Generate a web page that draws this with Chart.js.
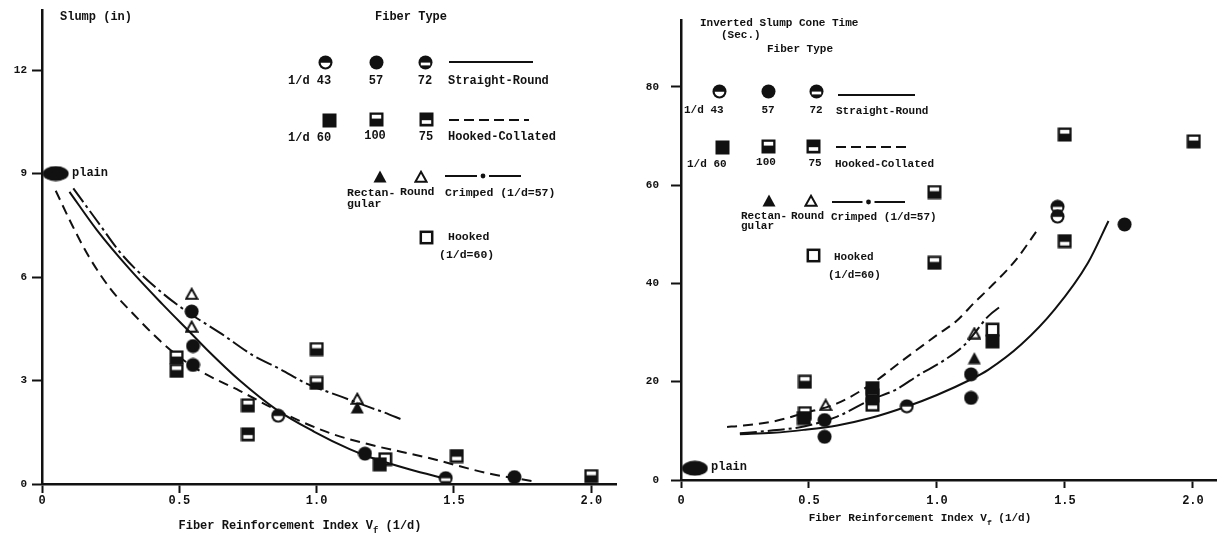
<!DOCTYPE html>
<html>
<head>
<meta charset="utf-8">
<script src="https://cdn.jsdelivr.net/npm/chart.js@4.4.1/dist/chart.umd.min.js"></script>
<style>
html,body{margin:0;padding:0;background:#fff;}
#wrap{position:relative;width:1224px;height:535px;overflow:hidden;}
#slumpChart{position:absolute;left:0;top:0;}
#coneChart{position:absolute;left:640px;top:0;}
</style>
</head>
<body>
<div id="wrap">
<canvas id="slumpChart" width="640" height="535"></canvas>
<canvas id="coneChart" width="584" height="535"></canvas>
</div>
<script>
// ---------------- LEFT PANEL: Slump (in) ----------------
const slumpXTicks = [0, 0.5, 1.0, 1.5, 2.0];
const slumpXTickLabels = ['0', '0.5', '1.0', '1.5', '2.0'];
const slumpYTicks = [0, 3, 6, 9, 12];
const slumpYTickLabels = ['0', '3', '6', '9', '12'];

const slumpPlain = [[0.05, 9.0]];
const slumpRound43 = [[0.86, 1.98]];
const slumpRound57 = [[0.545, 5.0], [0.55, 4.0], [0.55, 3.45], [1.176, 0.88], [1.72, 0.2]];
const slumpRound72 = [[1.47, 0.17]];
const slumpHC60 = [[1.23, 0.57]];
const slumpHC100 = [[0.49, 3.67], [0.49, 3.28], [0.75, 2.28], [1.0, 3.91], [1.0, 2.93], [2.0, 0.23]];
const slumpHC75 = [[0.75, 1.44], [1.51, 0.81]];
const slumpCrimpRect = [[1.148, 2.22]];
const slumpCrimpRound = [[0.545, 5.52], [0.545, 4.57], [1.148, 2.48]];
const slumpHooked = [[1.25, 0.72]];

const slumpStraightCurveX = [0.10, 0.20, 0.32, 0.44, 0.545, 0.60, 0.72, 0.855, 0.99, 1.12, 1.20, 1.34, 1.47];
const slumpStraightCurveY = [8.47, 7.36, 6.22, 5.20, 4.35, 3.90, 3.00, 2.15, 1.52, 1.01, 0.76, 0.42, 0.15];
const slumpCollatedCurveX = [0.05, 0.11, 0.17, 0.25, 0.33, 0.43, 0.50, 0.57, 0.72, 0.86, 1.05, 1.19, 1.40, 1.64, 1.79];
const slumpCollatedCurveY = [8.5, 7.5, 6.6, 5.65, 4.95, 4.15, 3.68, 3.3, 2.7, 2.12, 1.47, 1.15, 0.77, 0.28, 0.08];
const slumpCrimpedCurveX = [0.114, 0.20, 0.29, 0.405, 0.509, 0.654, 0.77, 0.867, 0.961, 1.097, 1.194, 1.237, 1.316];
const slumpCrimpedCurveY = [8.57, 7.63, 6.66, 5.76, 5.10, 4.35, 3.72, 3.33, 2.92, 2.51, 2.22, 2.10, 1.85];

// ---------------- RIGHT PANEL: Inverted Slump Cone Time (sec) ----------------
const coneXTicks = [0, 0.5, 1.0, 1.5, 2.0];
const coneXTickLabels = ['0', '0.5', '1.0', '1.5', '2.0'];
const coneYTicks = [0, 20, 40, 60, 80];
const coneYTickLabels = ['0', '20', '40', '60', '80'];

const conePlain = [[0.054, 2.4]];
const coneRound43 = [[0.882, 15.0], [1.471, 53.6]];
const coneRound57 = [[0.561, 12.2], [0.561, 8.8], [1.133, 21.5], [1.133, 16.7], [1.733, 52.0]];
const coneRound72 = [[1.471, 55.6]];
const coneHC60 = [[0.48, 12.6], [0.748, 18.7], [1.217, 28.2]];
const coneHC100 = [[0.484, 20.0], [0.484, 13.6], [0.748, 17.2], [0.99, 58.6], [0.99, 44.2], [1.499, 70.3], [2.003, 68.9]];
const coneHC75 = [[0.748, 15.3], [1.499, 48.6]];
const coneCrimpRect = [[1.146, 24.8]];
const coneCrimpRound = [[0.565, 15.3], [1.146, 29.9]];
const coneHooked = [[1.217, 30.6]];

const coneStraightCurveX = [0.23, 0.36, 0.48, 0.61, 0.74, 0.88, 1.0, 1.13, 1.20, 1.33, 1.46, 1.59, 1.67];
const coneStraightCurveY = [9.3, 9.6, 10.2, 11.1, 12.6, 14.9, 17.3, 20.4, 22.4, 27.6, 34.7, 44.2, 52.7];
const coneCollatedCurveX = [0.18, 0.23, 0.36, 0.48, 0.61, 0.74, 0.87, 1.0, 1.075, 1.15, 1.20, 1.31, 1.39];
const coneCollatedCurveY = [10.8, 11.0, 11.9, 13.6, 15.6, 19.4, 24.5, 29.5, 32.3, 36.3, 38.8, 44.9, 50.7];
const coneCrimpedCurveX = [0.23, 0.36, 0.48, 0.61, 0.74, 0.84, 0.93, 1.02, 1.11, 1.20, 1.25];
const coneCrimpedCurveY = [9.5, 10.1, 10.9, 12.9, 16.3, 18.4, 21.4, 24.1, 27.6, 33.3, 35.4];

// ---------------- styling helpers ----------------
const INK = '#111';
const MONO = '"Liberation Mono", "DejaVu Sans Mono", monospace';
const WEIGHT = 'bold';
Chart.defaults.font.family = MONO;
Chart.defaults.color = INK;

function makeMarker(kind) {
  const c = document.createElement('canvas');
  let w = 15, h = 15;
  if (kind === 'plain') { w = 27; h = 16; }
  if (kind === 'triF' || kind === 'triO') { w = 14; h = 13; }
  c.width = w; c.height = h;
  const g = c.getContext('2d');
  g.fillStyle = INK; g.strokeStyle = INK; g.lineWidth = 2;
  switch (kind) {
    case 'c57':
      g.beginPath(); g.arc(7.5, 7.5, 7, 0, Math.PI * 2); g.fill(); break;
    case 'c43':
      g.beginPath(); g.arc(7.5, 7.5, 7, 0, Math.PI * 2); g.fill();
      g.fillStyle = '#fff'; g.beginPath(); g.arc(7.5, 7.7, 4.8, 0, Math.PI); g.closePath(); g.fill(); break;
    case 'c72':
      g.beginPath(); g.arc(7.5, 7.5, 7, 0, Math.PI * 2); g.fill();
      g.fillStyle = '#fff'; g.fillRect(2.8, 7.6, 9.4, 2.8); break;
    case 'sq60':
      g.fillRect(0.5, 0.5, 14, 14); break;
    case 'sq100':
      g.fillRect(0.5, 0.5, 14, 14);
      g.fillStyle = '#fff'; g.fillRect(2.8, 2.8, 9.4, 3.8); break;
    case 'sq75':
      g.fillRect(0.5, 0.5, 14, 14);
      g.fillStyle = '#fff'; g.fillRect(2.8, 8.2, 9.4, 3.6); break;
    case 'sqO':
      g.lineWidth = 2.5; g.strokeRect(1.8, 1.8, 11.4, 11.4); break;
    case 'triF':
      g.beginPath(); g.moveTo(7, 0.5); g.lineTo(13.5, 12.5); g.lineTo(0.5, 12.5); g.closePath(); g.fill(); break;
    case 'triO':
      g.beginPath(); g.moveTo(7, 1.8); g.lineTo(12.6, 11.7); g.lineTo(1.4, 11.7); g.closePath(); g.stroke(); break;
    case 'plain':
      g.beginPath(); g.ellipse(13.5, 8, 13, 7.6, 0, 0, Math.PI * 2); g.fill(); break;
  }
  return c;
}
const MK = {};
['c43', 'c57', 'c72', 'sq60', 'sq100', 'sq75', 'sqO', 'triF', 'triO', 'plain'].forEach(k => MK[k] = makeMarker(k));

const pts = arr => arr.map(p => ({ x: p[0], y: p[1] }));
const curve = (xs, ys) => xs.map((x, i) => ({ x: x, y: ys[i] }));

function pointSet(label, arr, kind) {
  return { label, data: pts(arr), pointStyle: MK[kind], pointRadius: 7, pointHoverRadius: 7, showLine: false, order: 1 };
}
function lineSet(label, xs, ys, dash) {
  return { label, data: curve(xs, ys), showLine: true, pointRadius: 0, pointHoverRadius: 0, borderColor: INK,
    borderWidth: 2, borderDash: dash, cubicInterpolationMode: 'monotone', fill: false, order: 2 };
}

const DASH_COLLATED = [10, 6];
const DASH_CRIMPED = [17, 4, 3, 4];

function drawText(ctx, t, x, y, align, size) {
  ctx.font = WEIGHT + ' ' + size + 'px ' + MONO;
  ctx.textAlign = align || 'left';
  ctx.textBaseline = 'middle';
  ctx.fillStyle = INK;
  ctx.fillText(t, x, y);
}
function drawSample(ctx, x1, x2, y, kind) {
  ctx.save();
  ctx.strokeStyle = INK; ctx.fillStyle = INK; ctx.lineWidth = 2;
  if (kind === 'solid') {
    ctx.beginPath(); ctx.moveTo(x1, y); ctx.lineTo(x2, y); ctx.stroke();
  } else if (kind === 'dashed') {
    ctx.setLineDash([10, 5]);
    ctx.beginPath(); ctx.moveTo(x1, y); ctx.lineTo(x2, y); ctx.stroke();
  } else {
    const mid = (x1 + x2) / 2;
    ctx.beginPath(); ctx.moveTo(x1, y); ctx.lineTo(mid - 6, y); ctx.stroke();
    ctx.beginPath(); ctx.moveTo(mid + 6, y); ctx.lineTo(x2, y); ctx.stroke();
    ctx.beginPath(); ctx.arc(mid, y, 2.4, 0, Math.PI * 2); ctx.fill();
  }
  ctx.restore();
}
function drawMk(ctx, kind, x, y) {
  const m = MK[kind];
  ctx.drawImage(m, Math.round(x - m.width / 2), Math.round(y - m.height / 2));
}
function drawAxisTitle(ctx, cx, y, size) {
  const a = 'Fiber Reinforcement Index V', b = 'f', c = ' (1/d)';
  ctx.font = WEIGHT + ' ' + size + 'px ' + MONO;
  const wa = ctx.measureText(a).width, wc = ctx.measureText(c).width;
  ctx.font = WEIGHT + ' ' + (size - 3) + 'px ' + MONO;
  const wb = ctx.measureText(b).width;
  let x = cx - (wa + wb + wc) / 2;
  drawText(ctx, a, x, y, 'left', size); x += wa;
  drawText(ctx, b, x, y + 5, 'left', size - 3); x += wb;
  drawText(ctx, c, x, y, 'left', size);
}

const slumpAnnotations = {
  id: 'slumpAnnotations',
  afterDraw(chart) {
    const ctx = chart.ctx; const F = 12;
    ctx.save();
    drawText(ctx, 'Slump (in)', 60, 17, 'left', F);
    drawText(ctx, 'Fiber Type', 375, 17, 'left', F);
    drawMk(ctx, 'c43', 325, 62); drawMk(ctx, 'c57', 376, 62); drawMk(ctx, 'c72', 425, 62);
    drawSample(ctx, 449, 533, 62, 'solid');
    drawText(ctx, '1/d 43', 288, 81, 'left', F); drawText(ctx, '57', 376, 81, 'center', F);
    drawText(ctx, '72', 425, 81, 'center', F); drawText(ctx, 'Straight-Round', 448, 81, 'left', F);
    drawMk(ctx, 'sq60', 329, 120); drawMk(ctx, 'sq100', 376, 119); drawMk(ctx, 'sq75', 426, 119);
    drawSample(ctx, 449, 529, 120, 'dashed');
    drawText(ctx, '1/d 60', 288, 138, 'left', F); drawText(ctx, '100', 375, 136, 'center', F);
    drawText(ctx, '75', 426, 137, 'center', F); drawText(ctx, 'Hooked-Collated', 448, 137, 'left', F);
    drawMk(ctx, 'triF', 380, 176); drawMk(ctx, 'triO', 421, 176);
    drawSample(ctx, 445, 521, 176, 'crimped');
    drawText(ctx, 'Rectan-', 347, 193, 'left', 11.5); drawText(ctx, 'Round', 400, 192, 'left', 11.5);
    drawText(ctx, 'Crimped (1/d=57)', 445, 193, 'left', 11.5); drawText(ctx, 'gular', 347, 204, 'left', 11.5);
    drawMk(ctx, 'sqO', 426, 237);
    drawText(ctx, 'Hooked', 448, 237, 'left', 11.5); drawText(ctx, '(1/d=60)', 439, 255, 'left', 11.5);
    drawText(ctx, 'plain', 72, 173, 'left', 12);
    drawAxisTitle(ctx, 300, 526, 12);
    ctx.restore();
  }
};

const coneAnnotations = {
  id: 'coneAnnotations',
  afterDraw(chart) {
    const ctx = chart.ctx; const F = 11;
    ctx.save();
    drawText(ctx, 'Inverted Slump Cone Time', 60, 23, 'left', F);
    drawText(ctx, '(Sec.)', 81, 35, 'left', F);
    drawText(ctx, 'Fiber Type', 127, 49, 'left', F);
    drawMk(ctx, 'c43', 79, 91); drawMk(ctx, 'c57', 128, 91); drawMk(ctx, 'c72', 176, 91);
    drawSample(ctx, 198, 275, 95, 'solid');
    drawText(ctx, '1/d 43', 44, 110, 'left', F); drawText(ctx, '57', 128, 110, 'center', F);
    drawText(ctx, '72', 176, 110, 'center', F); drawText(ctx, 'Straight-Round', 196, 111, 'left', F);
    drawMk(ctx, 'sq60', 82, 147); drawMk(ctx, 'sq100', 128, 146); drawMk(ctx, 'sq75', 173, 146);
    drawSample(ctx, 196, 269, 147, 'dashed');
    drawText(ctx, '1/d 60', 47, 164, 'left', F); drawText(ctx, '100', 126, 162, 'center', F);
    drawText(ctx, '75', 175, 163, 'center', F); drawText(ctx, 'Hooked-Collated', 195, 164, 'left', F);
    drawMk(ctx, 'triF', 129, 200); drawMk(ctx, 'triO', 171, 200);
    drawSample(ctx, 192, 265, 202, 'crimped');
    drawText(ctx, 'Rectan-', 101, 216, 'left', F); drawText(ctx, 'Round', 151, 216, 'left', F);
    drawText(ctx, 'Crimped (1/d=57)', 191, 217, 'left', F); drawText(ctx, 'gular', 101, 226, 'left', F);
    drawMk(ctx, 'sqO', 173, 255);
    drawText(ctx, 'Hooked', 194, 257, 'left', F); drawText(ctx, '(1/d=60)', 188, 275, 'left', F);
    drawText(ctx, 'plain', 71, 467, 'left', 12);
    drawAxisTitle(ctx, 280, 518, 11);
    ctx.restore();
  }
};

function axisX(min, max, ticks, labels, height, tickLen, pad) {
  return {
    type: 'linear', min, max,
    afterBuildTicks: s => { s.ticks = ticks.map(v => ({ value: v })); },
    afterFit: s => { s.height = height; s.paddingLeft = 0; s.paddingRight = 0; },
    ticks: { callback: (v, i) => labels[i], font: { size: 12, family: MONO, weight: WEIGHT }, color: INK, padding: pad, maxRotation: 0, autoSkip: false },
    grid: { display: true, drawOnChartArea: false, drawTicks: true, tickLength: tickLen, tickColor: INK, tickWidth: 2, color: INK },
    border: { display: true, color: INK, width: 2.5 }
  };
}
function axisY(min, max, ticks, labels, width, tickLen, pad) {
  return {
    type: 'linear', min, max,
    afterBuildTicks: s => { s.ticks = ticks.map(v => ({ value: v })); },
    afterFit: s => { s.width = width; s.paddingTop = 0; s.paddingBottom = 0; },
    ticks: { callback: (v, i) => labels[i], font: { size: 11, family: MONO, weight: WEIGHT }, color: INK, padding: pad, autoSkip: false },
    grid: { display: true, drawOnChartArea: false, drawTicks: true, tickLength: tickLen, tickColor: INK, tickWidth: 2, color: INK },
    border: { display: true, color: INK, width: 2.5 }
  };
}

const commonOpts = {
  responsive: false, animation: false, devicePixelRatio: 1,
  plugins: { legend: { display: false }, tooltip: { enabled: false }, title: { display: false } },
  events: []
};

new Chart(document.getElementById('slumpChart'), {
  type: 'scatter',
  data: {
    datasets: [
      lineSet('Straight-Round', slumpStraightCurveX, slumpStraightCurveY, []),
      lineSet('Hooked-Collated', slumpCollatedCurveX, slumpCollatedCurveY, DASH_COLLATED),
      lineSet('Crimped (1/d=57)', slumpCrimpedCurveX, slumpCrimpedCurveY, DASH_CRIMPED),
      pointSet('plain', slumpPlain, 'plain'),
      pointSet('Straight-Round 1/d 43', slumpRound43, 'c43'),
      pointSet('Straight-Round 1/d 57', slumpRound57, 'c57'),
      pointSet('Straight-Round 1/d 72', slumpRound72, 'c72'),
      pointSet('Hooked-Collated 1/d 60', slumpHC60, 'sq60'),
      pointSet('Hooked-Collated 1/d 100', slumpHC100, 'sq100'),
      pointSet('Hooked-Collated 1/d 75', slumpHC75, 'sq75'),
      pointSet('Crimped Rectangular', slumpCrimpRect, 'triF'),
      pointSet('Crimped Round', slumpCrimpRound, 'triO'),
      pointSet('Hooked (1/d=60)', slumpHooked, 'sqO')
    ]
  },
  options: Object.assign({}, commonOpts, {
    layout: { padding: { left: 0, top: 10, right: 24, bottom: 0 } },
    scales: {
      x: axisX(0, 2.09, slumpXTicks, slumpXTickLabels, 51, 9, 1),
      y: axisY(0, 13.74, slumpYTicks, slumpYTickLabels, 42, 10, 5)
    }
  }),
  plugins: [slumpAnnotations]
});

new Chart(document.getElementById('coneChart'), {
  type: 'scatter',
  data: {
    datasets: [
      lineSet('Straight-Round', coneStraightCurveX, coneStraightCurveY, []),
      lineSet('Hooked-Collated', coneCollatedCurveX, coneCollatedCurveY, DASH_COLLATED),
      lineSet('Crimped (1/d=57)', coneCrimpedCurveX, coneCrimpedCurveY, DASH_CRIMPED),
      pointSet('plain', conePlain, 'plain'),
      pointSet('Straight-Round 1/d 43', coneRound43, 'c43'),
      pointSet('Straight-Round 1/d 57', coneRound57, 'c57'),
      pointSet('Straight-Round 1/d 72', coneRound72, 'c72'),
      pointSet('Hooked-Collated 1/d 60', coneHC60, 'sq60'),
      pointSet('Hooked-Collated 1/d 100', coneHC100, 'sq100'),
      pointSet('Hooked-Collated 1/d 75', coneHC75, 'sq75'),
      pointSet('Crimped Rectangular', coneCrimpRect, 'triF'),
      pointSet('Crimped Round', coneCrimpRound, 'triO'),
      pointSet('Hooked (1/d=60)', coneHooked, 'sqO')
    ]
  },
  options: Object.assign({}, commonOpts, {
    layout: { padding: { left: 0, top: 20, right: 0, bottom: 0 } },
    scales: {
      x: axisX(0, 2.09, coneXTicks, coneXTickLabels, 55, 8, 6),
      y: axisY(0, 93.6, coneYTicks, coneYTickLabels, 41, 10, 12)
    }
  }),
  plugins: [coneAnnotations]
});
</script>
</body>
</html>
